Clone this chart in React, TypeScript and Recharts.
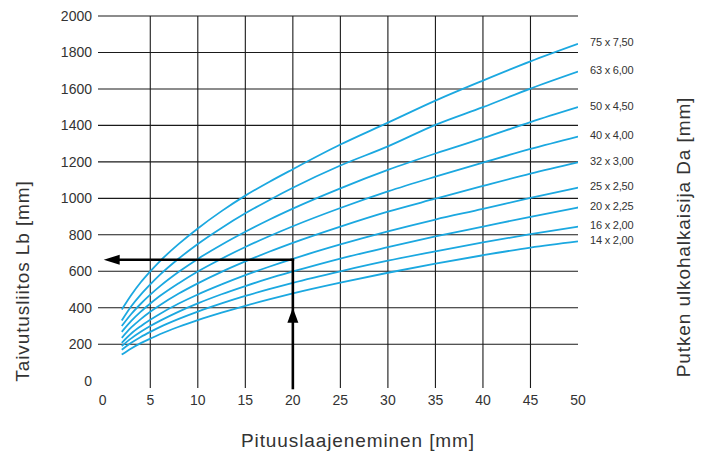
import React from "react";
import {
  LineChart,
  Line,
  XAxis,
  YAxis,
  ReferenceLine,
  ReferenceDot,
  Customized,
} from "recharts";

// Pituuslaajeneminen [mm]
const xValues = [2, 3, 4, 5, 6, 8, 10, 12.5, 15, 17.5, 20, 25, 30, 35, 40, 45, 50];

// Taivutusliitos Lb [mm] for each pipe size
const s75 = [390, 470, 540, 600, 655, 750, 835, 930, 1015, 1090, 1160, 1295, 1415, 1536, 1646, 1751, 1847];
const s63 = [330, 408, 472, 528, 580, 670, 750, 838, 918, 990, 1058, 1180, 1285, 1403, 1500, 1602, 1695];
const s50 = [300, 366, 422, 472, 517, 597, 668, 746, 817, 883, 944, 1055, 1156, 1246, 1330, 1418, 1500];
const s40 = [268, 328, 379, 423, 464, 535, 599, 669, 733, 792, 847, 947, 1038, 1119, 1196, 1271, 1339];
const s32 = [235, 292, 338, 378, 414, 478, 534, 597, 654, 707, 756, 845, 927, 998, 1068, 1136, 1198];
const s25 = [208, 259, 299, 334, 366, 423, 473, 528, 579, 625, 668, 747, 819, 884, 942, 1003, 1059];
const s20 = [190, 232, 268, 300, 328, 379, 424, 474, 519, 561, 599, 670, 732, 791, 845, 899, 950];
const s16 = [170, 208, 240, 268, 294, 339, 379, 424, 465, 502, 537, 600, 658, 709, 758, 804, 845];
const s14 = [143, 177, 206, 231, 255, 296, 332, 373, 411, 446, 479, 538, 592, 642, 688, 730, 764];

const seriesKeys = ["s75", "s63", "s50", "s40", "s32", "s25", "s20", "s16", "s14"];
const seriesValues = [s75, s63, s50, s40, s32, s25, s20, s16, s14];
const seriesLabels = [
  "75 x 7,50",
  "63 x 6,00",
  "50 x 4,50",
  "40 x 4,00",
  "32 x 3,00",
  "25 x 2,50",
  "20 x 2,25",
  "16 x 2,00",
  "14 x 2,00",
];

const xTicks = [0, 5, 10, 15, 20, 25, 30, 35, 40, 45, 50];
const yTicks = [0, 200, 400, 600, 800, 1000, 1200, 1400, 1600, 1800, 2000];
const xGrid = [5, 10, 15, 20, 25, 30, 35, 40, 45];
const yGrid = [200, 400, 600, 800, 1000, 1200, 1400, 1600, 1800, 2000];

// Example reading: 20 mm expansion -> ~663 mm
const exampleX = 20;
const exampleY = 663;

const xAxisTitle = "Pituuslaajeneminen [mm]";
const yAxisTitle = "Taivutusliitos Lb [mm]";
const rightTitle = "Putken ulkohalkaisija Da [mm]";

const data = xValues.map((x, i) => {
  const row: Record<string, number> = { x };
  seriesKeys.forEach((k, j) => {
    row[k] = seriesValues[j][i];
  });
  return row;
});

const FONT = '"Liberation Sans", Arial, Helvetica, sans-serif';
const TEXT = "#333";
const CURVE = "#1ba8e0";
const lastIndex = xValues.length - 1;

const makeEndLabel = (text: string) => (props: any) => {
  const { x, y, index } = props;
  if (index !== lastIndex) return null;
  return (
    <text
      x={x + 12}
      y={y + 2.5}
      fontSize={11}
      fontFamily={FONT}
      fill={TEXT}
      letterSpacing={-0.2}
    >
      {text}
    </text>
  );
};

const Titles = () => (
  <g fontFamily={FONT} fill={TEXT}>
    <text x={358} y={447} fontSize={19} textAnchor="middle" letterSpacing={0.9}>
      {xAxisTitle}
    </text>
    <text
      x={0}
      y={0}
      fontSize={19}
      textAnchor="middle"
      letterSpacing={0.9}
      transform="translate(29 281) rotate(-90)"
    >
      {yAxisTitle}
    </text>
    <text
      x={0}
      y={0}
      fontSize={19}
      textAnchor="middle"
      letterSpacing={0.9}
      transform="translate(690 237) rotate(-90)"
    >
      {rightTitle}
    </text>
  </g>
);

const UpArrowHead = (p: any) => (
  <polygon
    points={`${p.cx},${p.cy} ${p.cx - 5.5},${p.cy + 15} ${p.cx + 5.5},${p.cy + 15}`}
    fill="#000"
  />
);
const LeftArrowHead = (p: any) => (
  <polygon
    points={`${p.cx},${p.cy} ${p.cx + 16},${p.cy - 5} ${p.cx + 16},${p.cy + 5}`}
    fill="#000"
  />
);

export default function App() {
  return (
    <div style={{ position: "absolute", left: 0, top: 0, width: 701, height: 452, background: "#fff" }}>
      <LineChart
        width={701}
        height={452}
        data={data}
        margin={{ top: 16, right: 123, bottom: 34, left: 0 }}
      >
        <XAxis
          dataKey="x"
          type="number"
          domain={[-0.5, 50]}
          ticks={xTicks}
          allowDataOverflow
          axisLine={false}
          tickLine={false}
          tickSize={0}
          tickMargin={7}
          height={30}
          tick={{ fontSize: 14, fill: TEXT, fontFamily: FONT }}
        />
        <YAxis
          type="number"
          domain={[-40, 2000]}
          ticks={yTicks}
          allowDataOverflow
          axisLine={false}
          tickLine={false}
          tickSize={0}
          tickMargin={6}
          width={98}
          tick={{ fontSize: 14, fill: TEXT, fontFamily: FONT }}
        />
        {yGrid.map((v) => (
          <ReferenceLine key={"h" + v} y={v} stroke="#1a1a1a" strokeWidth={1.1} />
        ))}
        {xGrid.map((v) => (
          <ReferenceLine key={"v" + v} x={v} stroke="#1a1a1a" strokeWidth={1.1} />
        ))}
        {seriesKeys.map((k, j) => (
          <Line
            key={k}
            dataKey={k}
            type="monotone"
            stroke={CURVE}
            strokeWidth={1.8}
            dot={false}
            activeDot={false}
            isAnimationActive={false}
            label={makeEndLabel(seriesLabels[j])}
          />
        ))}
        <ReferenceLine
          segment={[
            { x: exampleX, y: -40 },
            { x: exampleX, y: exampleY },
          ]}
          stroke="#000"
          strokeWidth={2.6}
          strokeLinecap="square"
        />
        <ReferenceLine
          segment={[
            { x: exampleX, y: exampleY },
            { x: 1.5, y: exampleY },
          ]}
          stroke="#000"
          strokeWidth={2.6}
          strokeLinecap="square"
        />
        <ReferenceDot x={exampleX} y={400} r={0} shape={UpArrowHead} />
        <ReferenceDot x={0.1} y={exampleY} r={0} shape={LeftArrowHead} />
        <Customized component={Titles} />
      </LineChart>
    </div>
  );
}
